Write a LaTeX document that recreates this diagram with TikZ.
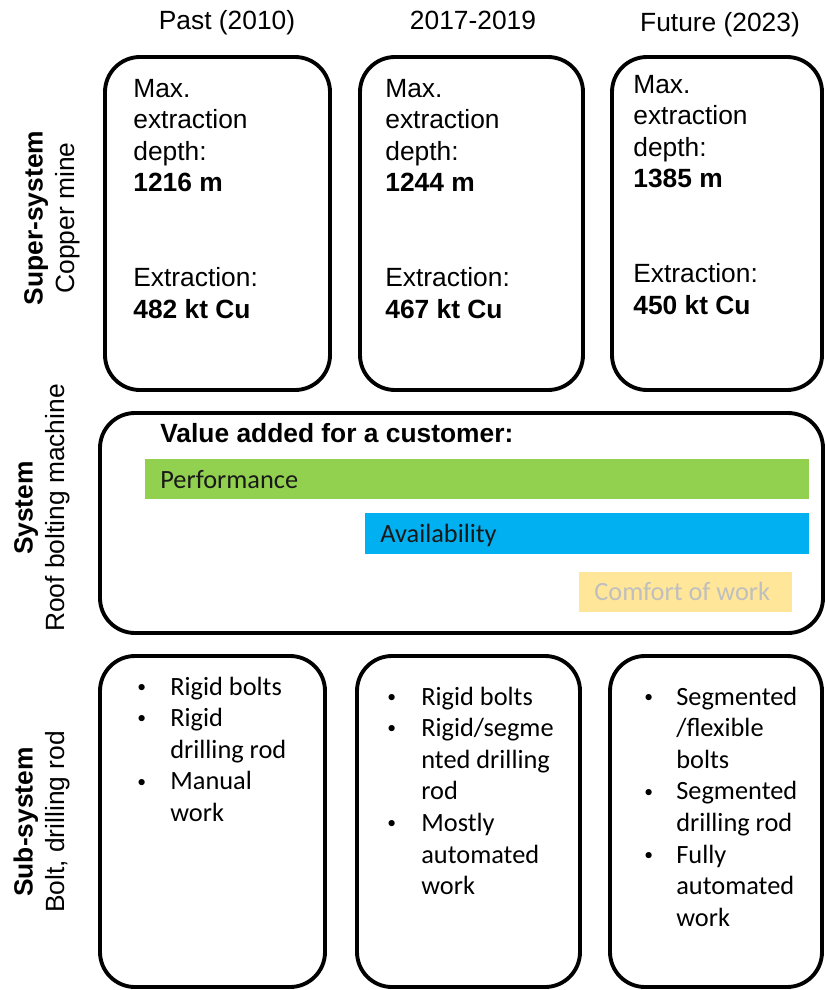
\documentclass[tikz,border=0pt]{standalone}
\usepackage{fontspec}
\setmainfont{Liberation Sans}
\newfontfamily\calibri{Carlito}
\usepackage{xcolor}
\usepackage{tikz}
\definecolor{perfGreen}{HTML}{92D050}
\definecolor{availBlue}{HTML}{00B0F0}
\definecolor{comfortYellow}{HTML}{FFE699}
\definecolor{comfortText}{HTML}{BFBFBF}
\newcommand{\bodysize}{\fontsize{15}{18}\selectfont}
\newcommand{\dotitem}{\raisebox{1.6pt}{\fontsize{10}{12}\selectfont\textbullet}}

\begin{document}
\begin{tikzpicture}[x=0.02cm, y=-0.02cm,
    panel/.style={line width=2.2pt, rounded corners=0.7cm},
    txt/.style={inner sep=0pt, anchor=base west, font=\bodysize},
    bul/.style={inner sep=0pt, anchor=base west, font=\calibri\bodysize},
    side/.style={inner sep=0pt, rotate=90, font=\bodysize}]

    \useasboundingbox (0,0) rectangle (825,990);

    % column headers
    \node[txt, anchor=base] (hpast) at (227,30) {Past (2010)};
    \node[txt, anchor=base] (hnow) at (473,30) {2017-2019};
    \node[txt, anchor=base] (hfut) at (720,32) {Future (2023)};

    % row labels
    \node[side] (lsuper) at (52,218)
        {\begin{tabular}{@{}c@{}}\textbf{Super-system}\\Copper mine\end{tabular}};
    \node[side] (lsystem) at (42,508)
        {\begin{tabular}{@{}c@{}}\textbf{System}\\Roof bolting machine\end{tabular}};
    \node[side] (lsub) at (42,822)
        {\begin{tabular}{@{}c@{}}\textbf{Sub-system}\\Bolt, drilling rod\end{tabular}};

    % super-system
    \draw[panel] (105,57) rectangle (330,390);
    \draw[panel] (360,57) rectangle (583,390);
    \draw[panel] (612,57) rectangle (822,390);
    \foreach \n/\x/\y/\depth/\cu in {past/133/97/1216/482, now/385/97/1244/467, fut/633/93/1385/450}
        \node[txt] (super\n) at (\x,\y) {\begin{tabular}[t]{@{}l@{}}Max.\\extraction\\depth:\\
            \textbf{\depth\ m}\\ \\ \\Extraction:\\\textbf{\cu\ kt Cu}\end{tabular}};

    % system
    \draw[panel] (100,413) rectangle (823,633);
    \node[txt] (value) at (160,442) {\textbf{Value added for a customer:}};
    \fill[perfGreen] (145,459) rectangle (809,499);
    \fill[availBlue] (365,513) rectangle (809,554);
    \fill[comfortYellow] (579,572) rectangle (792,612);
    \node[bul, text=black!90] (perf) at (160,488) {Performance};
    \node[bul, text=black!90] (avail) at (380,542) {Availability};
    \node[bul, text=comfortText] (comfort) at (594,600) {Comfort of work};

    % sub-system
    \draw[panel] (100,656) rectangle (325,987);
    \draw[panel] (357,656) rectangle (580,987);
    \draw[panel] (610,656) rectangle (822,987);
    \node[bul] (subpast) at (137,695) {\begin{tabular}[t]{@{}p{0.66cm}@{}l@{}}
        \dotitem & Rigid bolts\\ \dotitem & Rigid\\ & drilling rod\\
        \dotitem & Manual\\ & work\end{tabular}};
    \node[bul] (subnow) at (387,705) {\begin{tabular}[t]{@{}p{0.68cm}@{}l@{}}
        \dotitem & Rigid bolts\\ \dotitem & Rigid/segme\\ & nted drilling\\ & rod\\
        \dotitem & Mostly\\ & automated\\ & work\end{tabular}};
    \node[bul] (subfut) at (644,705) {\begin{tabular}[t]{@{}p{0.64cm}@{}l@{}}
        \dotitem & Segmented\\ & /flexible\\ & bolts\\
        \dotitem & Segmented\\ & drilling rod\\
        \dotitem & Fully\\ & automated\\ & work\end{tabular}};
\end{tikzpicture}
\end{document}
